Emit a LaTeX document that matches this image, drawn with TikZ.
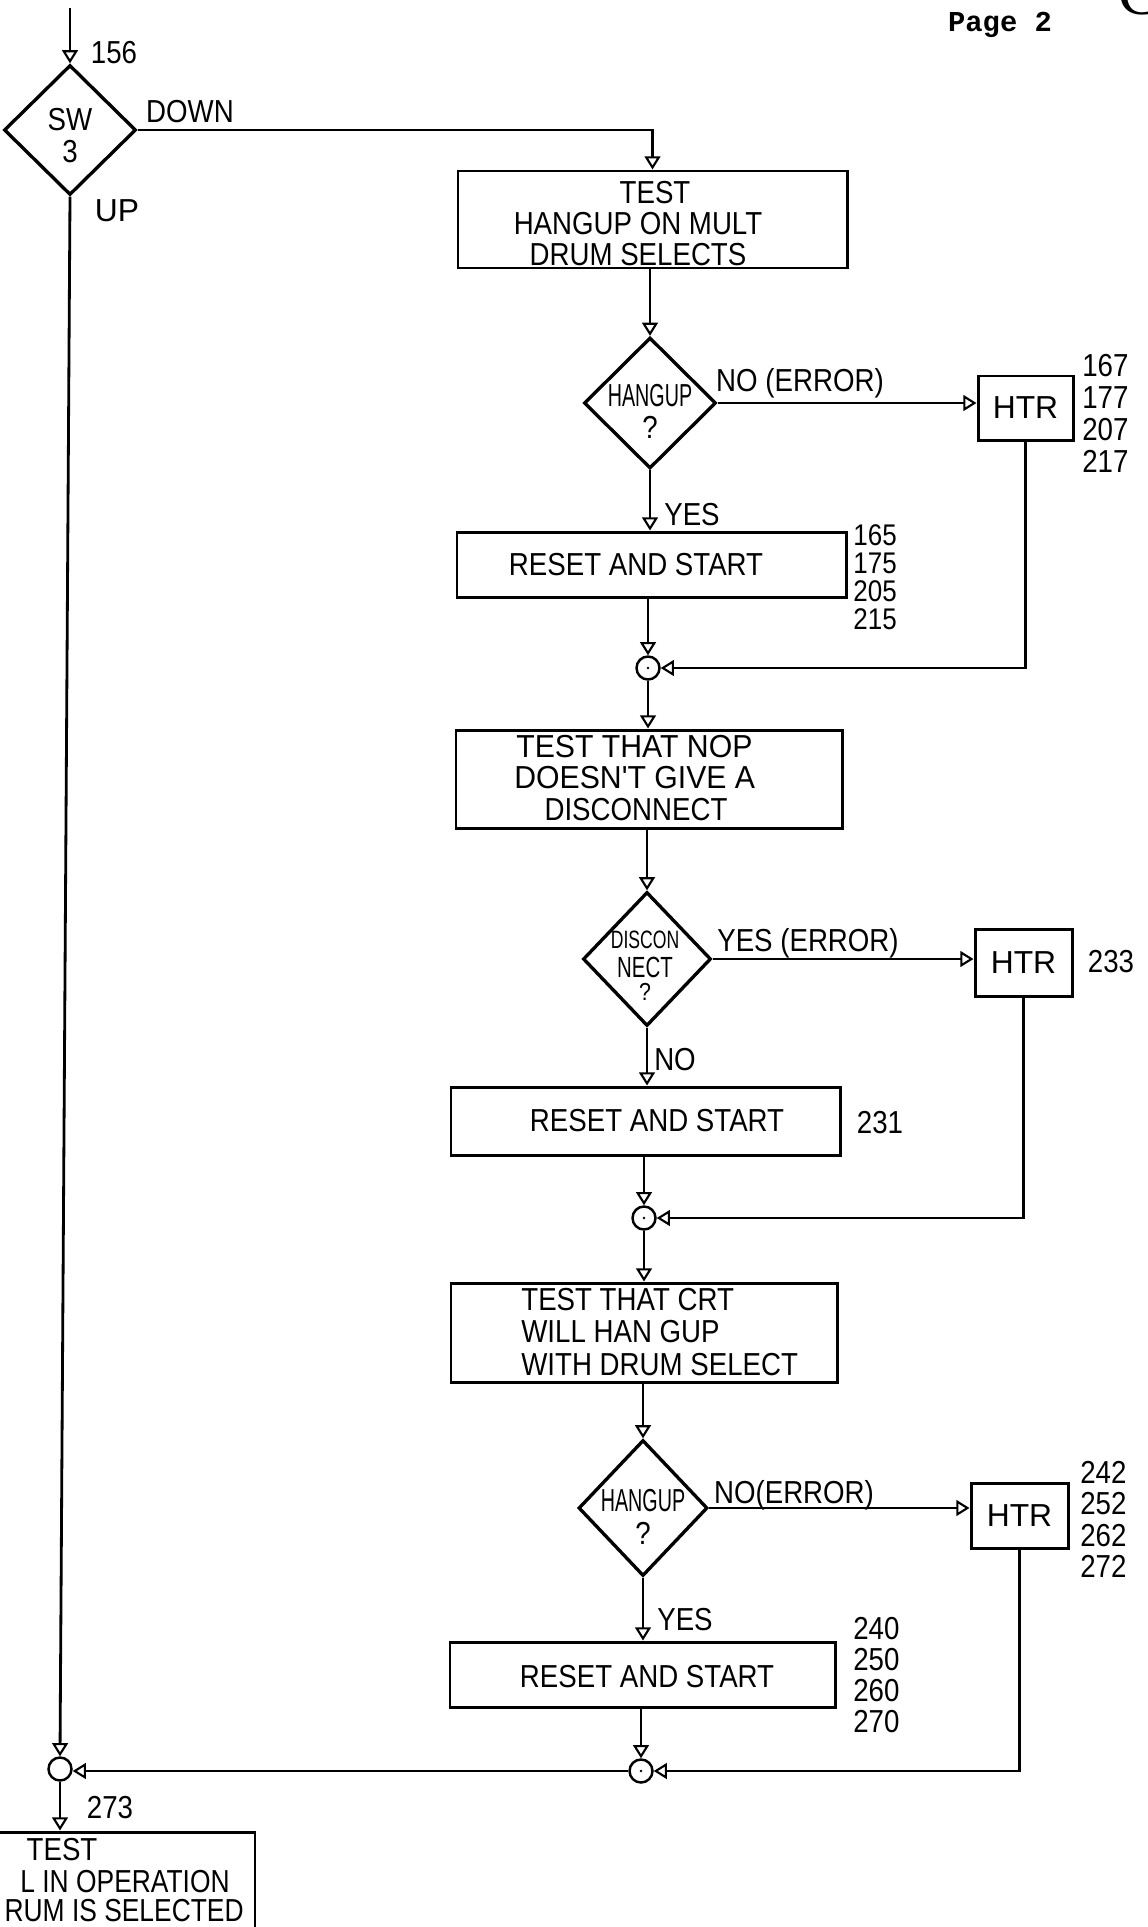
\documentclass[tikz,border=0pt]{standalone}
\usepackage{fontspec}
\setmainfont{Liberation Sans}[FakeStretch=0.87]
\newfontfamily\narrowfont{Liberation Sans}[FakeStretch=0.62]
\newfontfamily\semifont{Liberation Sans}[FakeStretch=0.70]
\newfontfamily\slimfont{Liberation Sans}[FakeStretch=0.83]
\newfontfamily\widefont{Liberation Sans}[FakeStretch=0.95]
\newfontfamily\plainfont{Liberation Sans}
\newfontfamily\pagefont{Liberation Mono}
\newfontfamily\letterfont{Liberation Serif}
\usetikzlibrary{shapes.geometric,arrows.meta}
\newlength\pxu
\setlength\pxu{0.02cm}
\tikzset{
  box/.style={draw, rectangle, line width=1.7pt, inner sep=0pt},
  dia/.style={draw, diamond, line width=1.9pt, inner sep=0pt},
  junc/.style={draw, circle, line width=1.4pt, minimum size=23\pxu, inner sep=0pt},
  flow/.style={line width=1.6pt, -{Triangle[open,width=9pt,length=7.5pt,line width=1.2pt]}},
  lab/.style={inner sep=0pt, font=\fontsize{18.1}{22}\selectfont},
  nums/.style={inner sep=0pt, align=left, anchor=west},
}
\begin{document}
\begin{tikzpicture}[x=0.02cm,y=-0.02cm]
\useasboundingbox (0,0) rectangle (1147,1927);
\clip (0,0) rectangle (1147,1927);
\fill[white] (0,0) rectangle (1147,1927);

% header
\node[inner sep=0pt, font=\pagefont\bfseries\fontsize{16.4}{18}\selectfont] (page) at (1000,25) {Page 2};
\node[inner sep=0pt, font=\letterfont\fontsize{36}{36}\selectfont] (gmark) at (1141,-6) {G};

% shapes
\coordinate (in0) at (70,8);
\node[dia, minimum width=132\pxu, minimum height=130\pxu] (sw) at (70,130) {};
\node[box, minimum width=389\pxu, minimum height=97\pxu] (b1) at (652.5,219.5) {};
\node[dia, minimum width=132\pxu, minimum height=131\pxu] (d2) at (650,403) {};
\node[box, minimum width=95\pxu, minimum height=64\pxu] (h1) at (1025.5,408) {};
\node[box, minimum width=389\pxu, minimum height=65\pxu] (r1) at (651.5,564.5) {};
\node[junc] (c1) at (648,668) {};
\node[box, minimum width=386\pxu, minimum height=98\pxu] (b3) at (649,779) {};
\node[dia, minimum width=128\pxu, minimum height=134\pxu] (d3) at (647,959) {};
\node[box, minimum width=97\pxu, minimum height=67\pxu] (h2) at (1023.5,962.5) {};
\node[box, minimum width=389\pxu, minimum height=68\pxu] (r2) at (645.5,1121) {};
\node[junc] (c2) at (644,1218) {};
\node[box, minimum width=386\pxu, minimum height=99\pxu] (b4) at (644,1332.5) {};
\node[dia, minimum width=129\pxu, minimum height=136\pxu] (d4) at (643,1508) {};
\node[box, minimum width=97\pxu, minimum height=65\pxu] (h3) at (1019.5,1515.5) {};
\node[box, minimum width=385\pxu, minimum height=65\pxu] (r3) at (642.5,1674.5) {};
\node[junc] (c3) at (641,1771) {};
\node[junc] (c4) at (60,1769) {};
\node[box, minimum width=405\pxu, minimum height=168\pxu] (b5) at (52.5,1916) {};

\fill (c1) circle[radius=0.8pt];
\fill (c2) circle[radius=0.8pt];
\fill (c3) circle[radius=0.8pt];

% connectors
\draw[flow] (in0) -- (sw.north);
\draw[flow] (sw.east) -| (b1.north);
\draw[flow] (b1.south -| d2.north) -- (d2.north);
\draw[flow] (d2.east) -- (d2.east -| h1.west);
\draw[flow] (d2.south) -- (d2.south |- r1.north);
\draw[flow] (r1.south -| c1.north) -- (c1.north);
\draw[flow] (h1.south) |- (c1.east);
\draw[flow] (c1.south) -- (c1.south |- b3.north);
\draw[flow] (b3.south -| d3.north) -- (d3.north);
\draw[flow] (d3.east) -- (d3.east -| h2.west);
\draw[flow] (d3.south) -- (d3.south |- r2.north);
\draw[flow] (r2.south -| c2.north) -- (c2.north);
\draw[flow] (h2.south) |- (c2.east);
\draw[flow] (c2.south) -- (c2.south |- b4.north);
\draw[flow] (b4.south -| d4.north) -- (d4.north);
\draw[flow] (d4.east) -- (d4.east -| h3.west);
\draw[flow] (d4.south) -- (d4.south |- r3.north);
\draw[flow] (r3.south -| c3.north) -- (c3.north);
\draw[flow] (h3.south) |- (c3.east);
\draw[flow] (c3.west) -- (c3.west -| c4.east);
\draw[flow] (sw.south) -- (c4.north);
\draw[flow] (c4.south) -- (c4.south |- b5.north);

% texts in shapes
\node[lab] (swa) at (70,120) {SW};
\node[lab] (swb) at (70,152) {3};

\node[lab] (t1a) at (655,193) {TEST};
\node[lab] (t1b) at (638,224) {HANGUP ON MULT};
\node[lab] (t1c) at (638,255) {DRUM SELECTS};

\node[lab, font=\narrowfont\fontsize{18.1}{22}\selectfont] (d2a) at (650,396) {HANGUP};
\node[lab] (d2b) at (650,427) {?};

\node[lab, font=\plainfont\fontsize{18.1}{22}\selectfont] (h1t) at (1025.5,408) {HTR};
\node[lab] (r1t) at (636,565) {RESET AND START};

\node[lab, anchor=west, font=\widefont\fontsize{18.1}{22}\selectfont] (t3a) at (516,747) {TEST THAT NOP};
\node[lab, anchor=west, font=\widefont\fontsize{18.1}{22}\selectfont] (t3b) at (514,778) {DOESN'T GIVE A};
\node[lab] (t3c) at (636,810) {DISCONNECT};

\node[lab, font=\semifont\fontsize{14.3}{16}\selectfont] (d3a) at (645,940) {DISCON};
\node[lab, font=\semifont\fontsize{16.6}{18}\selectfont] (d3b) at (645,967) {NECT};
\node[lab, font=\fontsize{14}{16}\selectfont] (d3c) at (645,992) {?};

\node[lab, font=\plainfont\fontsize{18.1}{22}\selectfont] (h2t) at (1023.5,962.5) {HTR};
\node[lab] (r2t) at (657,1121) {RESET AND START};

\node[lab, anchor=west] (t4a) at (521,1300) {TEST THAT CRT};
\node[lab, anchor=west] (t4b) at (521,1332) {WILL HAN GUP};
\node[lab, anchor=west] (t4c) at (521,1365) {WITH DRUM SELECT};

\node[lab, font=\narrowfont\fontsize{18.1}{22}\selectfont] (d4a) at (643,1501) {HANGUP};
\node[lab] (d4b) at (643,1533) {?};

\node[lab, font=\plainfont\fontsize{18.1}{22}\selectfont] (h3t) at (1019.5,1515.5) {HTR};
\node[lab] (r3t) at (647,1677) {RESET AND START};

\node[lab] (t5a) at (62,1850) {TEST};
\node[lab, anchor=east, font=\slimfont\fontsize{18.1}{22}\selectfont] (t5b) at (230,1882) {L IN OPERATION};
\node[lab, anchor=east, font=\slimfont\fontsize{18.1}{22}\selectfont] (t5c) at (244,1911) {RUM IS SELECTED};

% connector labels and numbers
\node[lab] (l156) at (114,53) {156};
\node[lab] (ldown) at (190,112) {DOWN};
\node[lab, font=\plainfont\fontsize{18.1}{22}\selectfont] (lup) at (117,211) {UP};
\node[lab] (lno1) at (800,383) {NO (ERROR)};
\node[lab] (lyes1) at (692,515) {YES};
\node[lab, nums, font=\fontsize{18.1}{18.3}\selectfont] (n1) at (1082,413.5) {167\\177\\207\\217};
\node[lab, nums, font=\fontsize{17}{16}\selectfont] (n2) at (853,577) {165\\175\\205\\215};
\node[lab] (lyes2) at (808,943) {YES (ERROR)};
\node[lab] (n3) at (1111,962) {233};
\node[lab] (lno2) at (675,1060) {NO};
\node[lab] (n4) at (880,1123) {231};
\node[lab] (lno3) at (794,1495) {NO(ERROR)};
\node[lab, nums, font=\fontsize{18.1}{17.97}\selectfont] (n5) at (1080,1519.5) {242\\252\\262\\272};
\node[lab] (lyes3) at (685,1620) {YES};
\node[lab, nums, font=\fontsize{18.1}{17.75}\selectfont] (n6) at (853,1675) {240\\250\\260\\270};
\node[lab] (l273) at (110,1808) {273};
\end{tikzpicture}
\end{document}
